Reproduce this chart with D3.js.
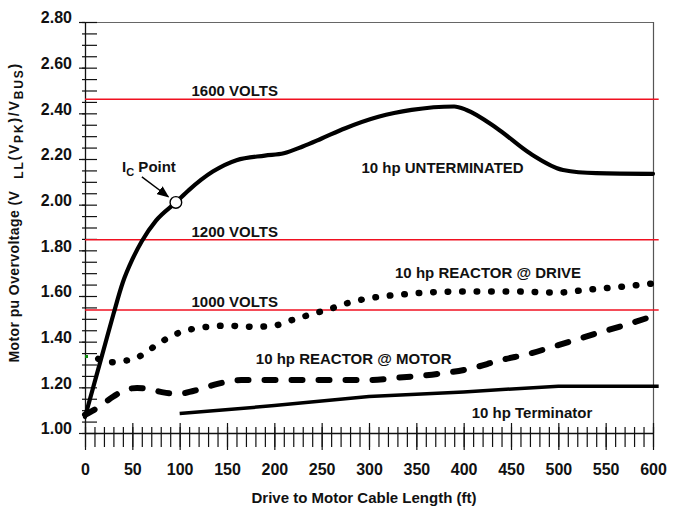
<!DOCTYPE html>
<html>
<head>
<meta charset="utf-8">
<script src="https://cdn.jsdelivr.net/npm/d3@7/dist/d3.min.js"></script>
<style>
  body { margin: 0; background: #fff; }
  svg { display: block; font-family: Arial, "Liberation Sans", Helvetica, sans-serif; font-weight: bold; }
</style>
</head>
<body>
<svg id="chart" width="682" height="508"></svg>
<script>
// ---- data: peak line-to-line motor voltage per unit of bus voltage vs cable length ----
const unterminatedLen = [0, 10, 20, 30, 40, 50, 60, 75, 96, 110, 135, 160, 190, 210, 230, 250, 275, 310, 345, 390, 403, 435, 470, 505, 540, 600];
const unterminatedPu  = [1.07, 1.22, 1.37, 1.52, 1.66, 1.76, 1.84, 1.93, 2.01, 2.065, 2.145, 2.195, 2.215, 2.225, 2.255, 2.29, 2.335, 2.385, 2.415, 2.43, 2.415, 2.335, 2.225, 2.152, 2.138, 2.135];

const reactorDriveLen = [14, 25, 40, 55, 70, 85, 100, 120, 150, 180, 200, 215, 235, 260, 280, 300, 330, 400, 450, 500, 530, 565, 600];
const reactorDrivePu  = [1.325, 1.31, 1.315, 1.33, 1.37, 1.41, 1.44, 1.46, 1.47, 1.465, 1.47, 1.49, 1.515, 1.545, 1.572, 1.59, 1.605, 1.62, 1.62, 1.615, 1.627, 1.64, 1.655];

const reactorMotorLen = [0, 15, 30, 45, 55, 65, 80, 95, 105, 120, 140, 165, 200, 250, 300, 330, 375, 405, 440, 470, 500, 540, 570, 600];
const reactorMotorPu  = [1.08, 1.115, 1.16, 1.192, 1.197, 1.195, 1.18, 1.172, 1.175, 1.19, 1.215, 1.232, 1.232, 1.232, 1.232, 1.242, 1.26, 1.28, 1.32, 1.348, 1.385, 1.436, 1.472, 1.512];

const terminatorLen = [100, 200, 300, 400, 500, 606];
const terminatorPu  = [1.085, 1.12, 1.16, 1.18, 1.205, 1.205];

// critical cable length point on the unterminated curve
const icPointLen = 96;
const icPointPu = 2.01;

// stray marker at the origin of the reactor-at-drive trace
const originMarkLen = [0];
const originMarkPu = [1.335];

// insulation voltage levels, referred to the DC bus
const busVolts = 650;
const limitVolts = [1600, 1200, 1000];
const limitLabels = ["1600 VOLTS", "1200 VOLTS", "1000 VOLTS"];
const limitSpan = [0, 606];

// axis ticks
const yMajorTicks = [1.0, 1.2, 1.4, 1.6, 1.8, 2.0, 2.2, 2.4, 2.6, 2.8];
const yMinorTicks = d3.range(0, 37).map(i => 1 + i * 0.05);
const xMajorTicks = [0, 50, 100, 150, 200, 250, 300, 350, 400, 450, 500, 550, 600];
const xMinorTicks = d3.range(0, 61).map(i => i * 10);

const seriesNames = ["10 hp UNTERMINATED", "10 hp REACTOR @ DRIVE", "10 hp REACTOR @ MOTOR", "10 hp Terminator"];
// label anchors (start of text baseline) in data units
const seriesLabelLen = [292, 327.5, 180.5, 408.5];
const seriesLabelPu  = [2.137, 1.678, 1.302, 1.064];

// ---- layout ----
const svg = d3.select("#chart");
const x = d3.scaleLinear().domain([0, 600]).range([85, 653]);
const y = d3.scaleLinear().domain([1.0, 2.8]).range([433, 22]);

const ink = "#111";

// frame (top and right)
svg.append("line").attr("x1", x(0)).attr("x2", x(600)).attr("y1", y(2.8) + 0.5).attr("y2", y(2.8) + 0.5)
  .attr("stroke", "#666").attr("stroke-width", 1);
svg.append("line").attr("x1", x(600) + 0.5).attr("x2", x(600) + 0.5).attr("y1", y(2.8)).attr("y2", y(1.0))
  .attr("stroke", "#555").attr("stroke-width", 1.2);

// ---- y axis ----
const yAxisG = svg.append("g").attr("transform", `translate(${x(0)},0)`);
const yLeftMinor = yAxisG.append("g").call(d3.axisLeft(y).tickValues(yMinorTicks).tickSize(3).tickFormat(""));
const yRightAll  = yAxisG.append("g").call(d3.axisRight(y).tickValues(yMinorTicks).tickSize(12).tickFormat(""));
const yLabels    = yAxisG.append("g").call(d3.axisLeft(y).tickValues(yMajorTicks).tickSize(6).tickPadding(7).tickFormat(d3.format(".2f")));
[yLeftMinor, yRightAll, yLabels].forEach(g => {
  g.select(".domain").remove();
  g.selectAll(".tick line").attr("stroke", ink).attr("stroke-width", 1.2);
});
yLabels.selectAll("text").attr("dy", "0.05em").attr("fill", ink)
  .style("font-size", "16px").style("font-family", "Arial, 'Liberation Sans', sans-serif").style("font-weight", "bold");
yAxisG.append("line").attr("x1", 0.5).attr("x2", 0.5).attr("y1", y(2.8)).attr("y2", y(1.0))
  .attr("stroke", ink).attr("stroke-width", 1.3);

// ---- x axis ----
const xAxisG = svg.append("g").attr("transform", `translate(0,${y(1.0)})`);
const xMinorDown = xAxisG.append("g").call(d3.axisBottom(x).tickValues(xMinorTicks).tickSize(14).tickFormat(""));
const xMinorUp   = xAxisG.append("g").call(d3.axisTop(x).tickValues(xMinorTicks).tickSize(6).tickFormat(""));
const xMajorUp   = xAxisG.append("g").call(d3.axisTop(x).tickValues(xMajorTicks).tickSize(10).tickFormat(""));
const xLabels    = xAxisG.append("g").call(d3.axisBottom(x).tickValues(xMajorTicks).tickSize(17).tickPadding(14).tickFormat(d3.format("d")));
[xMinorDown, xMinorUp, xMajorUp, xLabels].forEach(g => {
  g.select(".domain").remove();
  g.selectAll(".tick line").attr("stroke", ink).attr("stroke-width", 1.2);
});
xLabels.selectAll("text").attr("fill", ink)
  .style("font-size", "16px").style("font-family", "Arial, 'Liberation Sans', sans-serif").style("font-weight", "bold");
xAxisG.append("line").attr("x1", x(0)).attr("x2", x(600)).attr("y1", 0.5).attr("y2", 0.5)
  .attr("stroke", ink).attr("stroke-width", 1.3);

// ---- axis titles ----
svg.append("text")
  .attr("x", 364).attr("y", 503)
  .attr("text-anchor", "middle").attr("fill", ink)
  .style("font-size", "15px")
  .text("Drive to Motor Cable Length (ft)");

const yTitle = svg.append("text")
  .attr("transform", "translate(19,213) rotate(-90)")
  .attr("text-anchor", "middle").attr("fill", ink)
  .style("font-size", "14px").style("letter-spacing", "0.4px");
yTitle.append("tspan").text("Motor pu Overvoltage (V");
yTitle.append("tspan").attr("dx", 12).attr("dy", 4).style("font-size", "12px").style("letter-spacing", "1.8px").text("LL");
yTitle.append("tspan").attr("dy", -4).style("letter-spacing", "1.8px").text("(V");
yTitle.append("tspan").attr("dy", 4).style("font-size", "12px").style("letter-spacing", "1.8px").text("PK");
yTitle.append("tspan").attr("dy", -4).style("letter-spacing", "1.8px").text(")/V");
yTitle.append("tspan").attr("dy", 4).style("font-size", "12px").style("letter-spacing", "1.8px").text("BUS");
yTitle.append("tspan").attr("dy", -4).text(")");

// ---- voltage limit lines ----
const limitPu = limitVolts.map(v => v / busVolts);
svg.append("g").selectAll("line").data(limitPu).join("line")
  .attr("x1", x(limitSpan[0])).attr("x2", x(limitSpan[1]))
  .attr("y1", d => y(d)).attr("y2", d => y(d))
  .attr("stroke", "#f01020").attr("stroke-width", 1.4);
svg.append("g").selectAll("text").data(limitPu).join("text")
  .attr("x", x(112.5)).attr("y", d => y(d) - 3)
  .attr("fill", ink).style("font-size", "15px")
  .text((d, i) => limitLabels[i]);

// ---- curves ----
const lineGen = d3.line().x(d => x(d[0])).y(d => y(d[1])).curve(d3.curveMonotoneX);
const zipSeries = (a, b) => a.map((v, i) => [v, b[i]]);

svg.append("path").datum(zipSeries(terminatorLen, terminatorPu))
  .attr("d", d3.line().x(d => x(d[0])).y(d => y(d[1])))
  .attr("fill", "none").attr("stroke", "#000").attr("stroke-width", 3.5).attr("stroke-linejoin", "round");

svg.append("path").datum(zipSeries(reactorMotorLen, reactorMotorPu))
  .attr("d", lineGen)
  .attr("fill", "none").attr("stroke", "#000").attr("stroke-width", 6)
  .attr("stroke-linecap", "round").attr("stroke-dasharray", "11 16");

svg.append("path").datum(zipSeries(reactorDriveLen, reactorDrivePu))
  .attr("d", lineGen)
  .attr("fill", "none").attr("stroke", "#000").attr("stroke-width", 6.5)
  .attr("stroke-linecap", "round").attr("stroke-dasharray", "0.5 14");

svg.append("path").datum(zipSeries(unterminatedLen, unterminatedPu))
  .attr("d", lineGen)
  .attr("fill", "none").attr("stroke", "#000").attr("stroke-width", 4.2)
  .attr("stroke-linejoin", "round").attr("stroke-linecap", "round");

svg.append("g").selectAll("rect").data(zipSeries(originMarkLen, originMarkPu)).join("rect")
  .attr("x", d => x(d[0])).attr("y", d => y(d[1]) - 1.5)
  .attr("width", 3).attr("height", 3).attr("fill", "#0a8a0a");

// ---- series labels ----
svg.append("g").selectAll("text").data(seriesNames).join("text")
  .attr("x", (d, i) => x(seriesLabelLen[i]))
  .attr("y", (d, i) => y(seriesLabelPu[i]))
  .attr("fill", ink).style("font-size", "15px")
  .text(d => d);

// ---- Ic point annotation ----
const icX = x(icPointLen), icY = y(icPointPu);
svg.append("defs").append("marker")
  .attr("id", "arrowHead").attr("markerUnits", "userSpaceOnUse")
  .attr("markerWidth", 12).attr("markerHeight", 10)
  .attr("refX", 11).attr("refY", 5).attr("orient", "auto")
  .append("path").attr("d", "M0,0 L12,5 L0,10 Z").attr("fill", "#000");
svg.append("line")
  .attr("x1", icX - 34).attr("y1", icY - 25.5)
  .attr("x2", icX - 7.5).attr("y2", icY - 5.6)
  .attr("stroke", "#000").attr("stroke-width", 1.4)
  .attr("marker-end", "url(#arrowHead)");
svg.append("circle").attr("cx", icX).attr("cy", icY).attr("r", 5.8)
  .attr("fill", "#fff").attr("stroke", "#000").attr("stroke-width", 1.4);
const icLabel = svg.append("text")
  .attr("x", icX).attr("y", icY - 30.5)
  .attr("text-anchor", "end").attr("fill", ink)
  .style("font-size", "15px");
icLabel.append("tspan").text("I");
icLabel.append("tspan").attr("dy", 4).style("font-size", "11px").text("C");
icLabel.append("tspan").attr("dy", -4).text(" Point");
</script>
</body>
</html>
